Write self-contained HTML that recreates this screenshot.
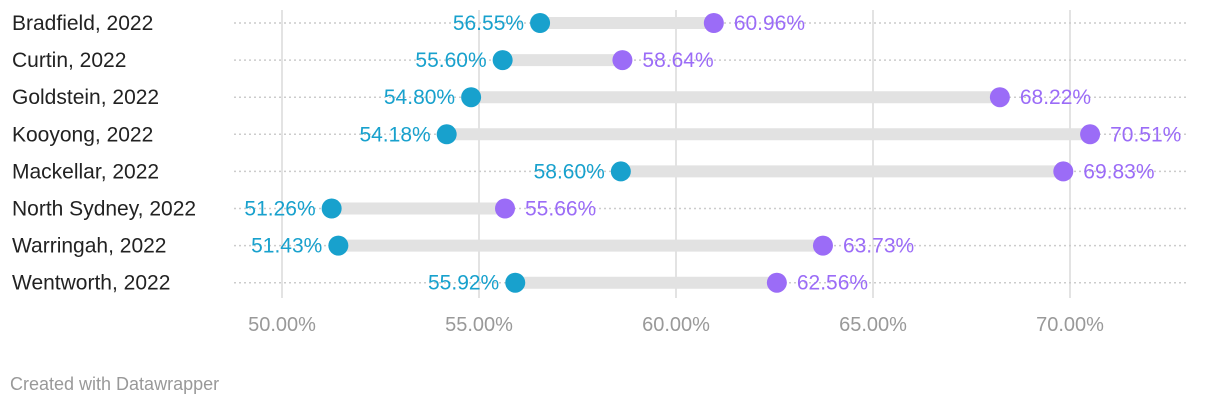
<!DOCTYPE html>
<html><head><meta charset="utf-8"><style>
body{margin:0;background:#fff;font-family:"Liberation Sans",sans-serif;}
</style></head><body>
<svg width="1220" height="410" style="display:block">
<g id="grid"></g><g id="rows"></g><g id="ticks"></g>
<text x="10" y="390" font-size="18" fill="#999">Created with Datawrapper</text>
</svg>
<script>
const categories=["Bradfield, 2022","Curtin, 2022","Goldstein, 2022","Kooyong, 2022","Mackellar, 2022","North Sydney, 2022","Warringah, 2022","Wentworth, 2022"];
const startValues=[56.55,55.60,54.80,54.18,58.60,51.26,51.43,55.92];
const endValues=[60.96,58.64,68.22,70.51,69.83,55.66,63.73,62.56];
const tickValues=[50,55,60,65,70];
const NS="http://www.w3.org/2000/svg";
const x=v=>282+(v-50)*39.4;
const y=i=>23+i*37.1;
function mk(tag,attrs,parent,text){const e=document.createElementNS(NS,tag);for(const k in attrs)e.setAttribute(k,attrs[k]);if(text!==undefined)e.textContent=text;parent.appendChild(e);return e;}
const grid=document.getElementById('grid'),rows=document.getElementById('rows'),ticks=document.getElementById('ticks');
tickValues.forEach(t=>{
 const l=mk('line',{x1:x(t),x2:x(t),y1:10,y2:298,stroke:'#e3e3e3','stroke-width':2},grid);
 
 
 const tx=mk('text',{x:x(t),y:331,'font-size':20,fill:'#999','text-anchor':'middle'},ticks,t.toFixed(2)+'%');
 
 
});
categories.forEach((c,i)=>{
 const yy=y(i);
 const g=mk('g',{},rows);
 
 
 const lab=mk('text',{x:12,y:yy+7,'font-size':21,fill:'#222'},g,c);
 
 
 const dl=mk('line',{x1:234,x2:1188,y1:yy,y2:yy,stroke:'#ccc','stroke-width':1.5,'stroke-dasharray':'2,3'},g);
 
 
 const a=startValues[i],b=endValues[i];
 const bar=mk('line',{x1:x(Math.min(a,b)),x2:x(Math.max(a,b)),y1:yy,y2:yy,stroke:'#e2e2e2','stroke-width':12},g);
 
 
 const d1=mk('circle',{cx:x(a),cy:yy,r:10,fill:'#18a1cd'},g);
 
 
 const d2=mk('circle',{cx:x(b),cy:yy,r:10,fill:'#9b6cf7'},g);
 
 
 const t1=mk('text',{x:x(a)-16,y:yy+7,'font-size':21,fill:'#18a1cd','text-anchor':'end'},g,a.toFixed(2)+'%');
 
 
 const t2=mk('text',{x:x(b)+20,y:yy+7,'font-size':21,fill:'#9b6cf7'},g,b.toFixed(2)+'%');
 
 
});
</script>
</body></html>
